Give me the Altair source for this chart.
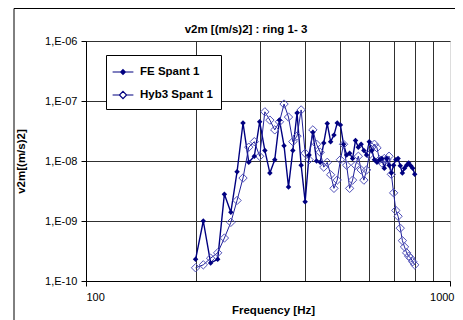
import altair as alt
import pandas as pd

series_names = ["FE Spant 1", "Hyb3 Spant 1"]

freqs = [200, 210, 220, 230, 240, 250, 260, 270, 280, 290,
         300, 310, 320, 330, 340, 350, 360, 370, 380, 390,
         400, 410, 420, 430, 440, 450, 460, 470, 480, 490,
         500, 510, 520, 530, 540, 550, 560, 570, 580, 590,
         600, 610, 620, 630, 640, 650, 660, 670, 680, 690,
         700, 710, 720, 730, 740, 750, 760, 770, 780, 790, 800]

fe_values = [2.3e-10, 1.0e-9, 2.0e-10, 2.3e-10, 2.8e-9, 1.4e-9, 6.6e-9, 4.3e-8, 9.5e-9, 1.2e-8,
             4.5e-8, 1.5e-8, 6.3e-9, 1.05e-8, 4.8e-8, 1.8e-8, 3.7e-9, 1.5e-8, 6.3e-8, 8.5e-9,
             2.1e-9, 1.26e-8, 3.0e-8, 1.0e-8, 9.5e-9, 2.0e-8, 4.2e-8, 2.1e-8, 2.7e-8, 4.3e-8,
             4.0e-8, 1.9e-8, 1.26e-8, 1.35e-8, 1.1e-8, 2.2e-8, 1.7e-8, 1.9e-8, 1.5e-8, 1.26e-8,
             2.1e-8, 1.5e-8, 1.05e-8, 9.5e-9, 1.05e-8, 1.1e-8, 7.6e-9, 1.1e-8, 8.5e-9, 6.3e-9,
             8.5e-9, 1.05e-8, 1.1e-8, 8.3e-9, 6.3e-9, 7.6e-9, 8.5e-9, 9.3e-9, 8.3e-9, 7.6e-9, 6.0e-9]

hyb3_values = [1.66e-10, 1.86e-10, 2.4e-10, 2.95e-10, 5.2e-10, 9.5e-10, 2.2e-9, 5.2e-9, 1.7e-8, 2.1e-8,
               1.2e-8, 6.6e-8, 4.8e-8, 3.3e-8, 4.5e-8, 8.9e-8, 5.4e-8, 2.1e-8, 2.6e-8, 7.1e-8,
               1.35e-8, 1.05e-8, 3.3e-8, 1.9e-8, 1.4e-8, 7.9e-9, 9.5e-9, 5.9e-9, 3.5e-9, 4.8e-9,
               1.05e-8, 1.9e-8, 8.5e-9, 3.5e-9, 4.8e-9, 8.5e-9, 1.2e-8, 7.1e-9, 4.8e-9, 7.1e-9,
               1.26e-8, 1.7e-8, 1.9e-8, 1.66e-8, 1.05e-8, 9.3e-9, 1.1e-8, 1.05e-8, 1.2e-8, 6.0e-9,
               2.95e-9, 1.5e-9, 1.2e-9, 7.6e-10, 4.7e-10, 3.7e-10, 2.95e-10, 2.6e-10, 2.4e-10, 2.1e-10, 1.86e-10]

x_ticks = [100, 200, 300, 400, 500, 600, 700, 800, 900, 1000]
y_ticks = [1e-10, 1e-9, 1e-8, 1e-7, 1e-6]

df = pd.DataFrame({
    "freq": freqs + freqs,
    "value": fe_values + hyb3_values,
    "series": [series_names[0]] * len(freqs) + [series_names[1]] * len(freqs),
})

FONT = "Liberation Sans"
NAVY = "#000080"

x_enc = alt.X(
    "freq:Q",
    scale=alt.Scale(type="log", domain=[100, 1000], nice=False),
    axis=alt.Axis(
        values=x_ticks,
        format="d",
        labelExpr="datum.value == 100 || datum.value == 1000 ? datum.label : ''",
        labelFlush=False,
        labelAlign={"condition": {"test": "datum.value <= 100", "value": "left"}, "value": "right"},
        labelOffset={"condition": {"test": "datum.value >= 1000", "value": 4}, "value": 0},
        grid=True,
        gridColor="#303030",
        gridWidth=1,
        gridOpacity={"condition": {"test": "datum.value >= 1000", "value": 0}, "value": 1},
        tickOpacity={"condition": {"test": "datum.value == 100 || datum.value == 1000", "value": 1}, "value": 0},
        tickColor="black",
        tickSize=5,
        domainColor="black",
        labelPadding=5,
        labelFont=FONT,
        labelFontSize=11,
        labelColor="black",
        titleFont=FONT,
        titleFontSize=11.5,
        titleFontWeight="bold",
        titleColor="black",
        titlePadding=2,
        titleX=187,
    ),
    title="Frequency [Hz]",
)

y_enc = alt.Y(
    "value:Q",
    scale=alt.Scale(type="log", domain=[1e-10, 1e-6], nice=False),
    axis=alt.Axis(
        values=y_ticks,
        labelExpr="'1,E-' + (-round(log(datum.value) / LN10) < 10 ? '0' : '') + (-round(log(datum.value) / LN10))",
        grid=True,
        gridColor="#303030",
        gridWidth=1,
        tickColor="black",
        tickSize=5,
        domainColor="black",
        labelPadding=4,
        labelFont=FONT,
        labelFontSize=11,
        labelColor="black",
        labelFlush=False,
        titleFont=FONT,
        titleFontSize=11.5,
        titleFontWeight="bold",
        titleColor="black",
        titlePadding=18,
    ),
    title="v2m[(m/s)2]",
)

base = alt.Chart(df).encode(x=x_enc, y=y_enc)

fe_filter = alt.datum.series == series_names[0]
hyb_filter = alt.datum.series == series_names[1]

line_fe = base.transform_filter(fe_filter).mark_line(color=NAVY, strokeWidth=1.4)
line_hyb = base.transform_filter(hyb_filter).mark_line(color="#20209a", strokeWidth=1)
pts_hyb = base.transform_filter(hyb_filter).mark_point(
    shape="diamond", filled=False, size=70, stroke="#5050b8", strokeWidth=1, opacity=1
)
pts_fe = base.transform_filter(fe_filter).mark_point(
    shape="diamond", filled=True, size=30, color=NAVY, opacity=1
)

# legend symbols: a short line with a small filled diamond / an open diamond
path_fe = ("M-1.3,0H1.3M0,-0.3L0.3,0L0,0.3L-0.3,0Z"
           "M0,-0.15L0.15,0L0,0.15L-0.15,0Z")
path_hyb = "M-1.3,0H-0.45M0.45,0H1.3M0,-0.45L0.45,0L0,0.45L-0.45,0Z"

legend_layer = base.transform_filter("false").mark_point(
    filled=False, stroke=NAVY, strokeWidth=1.2, opacity=1
).encode(
    shape=alt.Shape(
        "series:N",
        scale=alt.Scale(domain=series_names, range=[path_fe, path_hyb]),
        legend=alt.Legend(
            title=None,
            orient="none",
            legendX=20,
            legendY=14,
            fillColor="white",
            strokeColor="black",
            padding=8,
            symbolSize=256,
            symbolStrokeColor=NAVY,
            symbolStrokeWidth=1.2,
            symbolOpacity=1,
            labelOffset=8,
            rowPadding=8,
            labelFont=FONT,
            labelFontSize=11.5,
            labelFontWeight="bold",
            labelColor="black",
            cornerRadius=0,
        ),
    ),
)

frame = alt.Chart(pd.DataFrame({"k": [0]})).mark_rect(
    fill=None, stroke="black", strokeWidth=1
).encode(
    x=alt.value(-72),
    x2=alt.value(600),
    y=alt.value(-32.5),
    y2=alt.value(600),
)

chart = alt.layer(
    frame, line_fe, line_hyb, pts_hyb, pts_fe, legend_layer
).properties(
    width=364,
    height=240,
    title=alt.TitleParams(
        "v2m [(m/s)2] : ring 1- 3",
        font=FONT,
        fontSize=11.5,
        fontWeight="bold",
        color="black",
        anchor="middle",
        dx=-22,
        dy=29,
        offset=2,
    ),
    autosize=alt.AutoSizeParams(type="none"),
    padding={"left": 78, "top": 33, "right": 5, "bottom": 40},
).configure_view(
    fill="#c0c0c0", stroke=None
).configure(
    background="white"
)

chart.save("out.html", embed_options={"renderer": "svg", "actions": False})
